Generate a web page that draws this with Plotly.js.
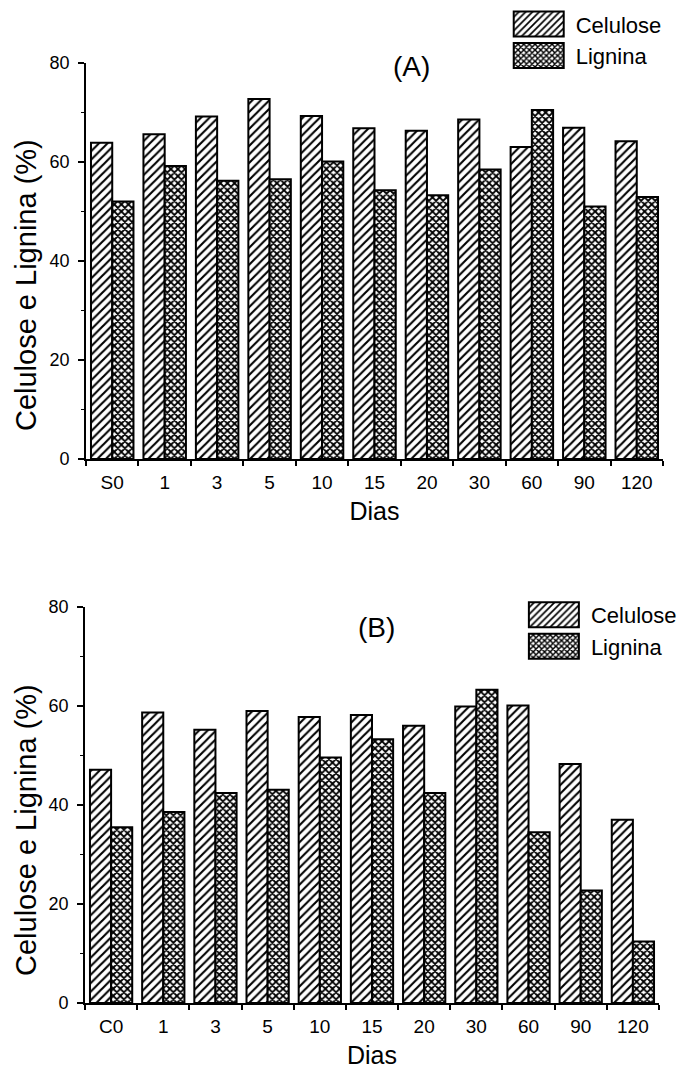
<!DOCTYPE html>
<html>
<head>
<meta charset="utf-8">
<script src="https://cdn.plot.ly/plotly-3.0.1.min.js"></script>
<style>html,body{margin:0;padding:0;background:#fff;}#chart{width:689px;height:1069px;}</style>
</head>
<body>
<div id="chart"></div>
<script>
// Categories (days)
const diasA = ['S0','1','3','5','10','15','20','30','60','90','120'];
const diasB = ['C0','1','3','5','10','15','20','30','60','90','120'];
// (A) values, %
const celuloseA = [63.9, 65.6, 69.2, 72.7, 69.3, 66.8, 66.3, 68.6, 63.0, 66.9, 64.2];
const ligninaA  = [52.0, 59.2, 56.2, 56.5, 60.1, 54.3, 53.3, 58.5, 70.5, 51.0, 52.9];
// (B) values, %
const celuloseB = [47.1, 58.7, 55.2, 59.0, 57.8, 58.2, 56.0, 59.9, 60.1, 48.3, 37.0];
const ligninaB  = [35.5, 38.6, 42.4, 43.1, 49.6, 53.3, 42.4, 63.3, 34.5, 22.7, 12.4];
const yTicks = [0, 20, 40, 60, 80];
const yTitle = 'Celulose e Lignina (%)';
const xTitle = 'Dias';

const FONT = 'Liberation Sans, Arial, Helvetica, sans-serif';
const celPattern = {shape: '/', fgcolor: '#000', bgcolor: '#fff', size: 6, solidity: 0.35};
const ligPattern = {shape: 'x', fgcolor: '#000', bgcolor: '#fff', size: 5, solidity: 0.6};
const line = {color: '#000', width: 2};

const traces = [
  {type: 'bar', name: 'Celulose', x: diasA, y: celuloseA, xaxis: 'x', yaxis: 'y', legend: 'legend',
   marker: {color: '#fff', line: line, pattern: celPattern}},
  {type: 'bar', name: 'Lignina', x: diasA, y: ligninaA, xaxis: 'x', yaxis: 'y', legend: 'legend',
   marker: {color: '#fff', line: line, pattern: ligPattern}},
  {type: 'bar', name: 'Celulose', x: diasB, y: celuloseB, xaxis: 'x2', yaxis: 'y2', legend: 'legend2',
   marker: {color: '#fff', line: line, pattern: celPattern}},
  {type: 'bar', name: 'Lignina', x: diasB, y: ligninaB, xaxis: 'x2', yaxis: 'y2', legend: 'legend2',
   marker: {color: '#fff', line: line, pattern: ligPattern}}
];

function xax(domain, anchor) {
  return {
    domain: domain, anchor: anchor, type: 'category',
    showline: true, linecolor: '#000', linewidth: 2,
    ticks: 'outside', tickson: 'boundaries', ticklen: 5, tickwidth: 2, tickcolor: '#000',
    ticklabelstandoff: 5,
    showgrid: false, zeroline: false, automargin: false,
    tickfont: {family: FONT, size: 19, color: '#000'},
    title: {text: xTitle, font: {family: FONT, size: 25, color: '#000'}, standoff: 11}
  };
}
function yax(domain, anchor) {
  return {
    domain: domain, anchor: anchor, range: [0, 80],
    tickvals: yTicks, showline: true, linecolor: '#000', linewidth: 2,
    ticks: 'outside', ticklen: 6, tickwidth: 2, tickcolor: '#000',
    ticklabelstandoff: 5,
    minor: {dtick: 10, ticks: 'outside', ticklen: 3, tickwidth: 1.5, tickcolor: '#000', showgrid: false},
    showgrid: false, zeroline: false, automargin: false,
    tickfont: {family: FONT, size: 18, color: '#000'}
  };
}

const legendFont = {family: FONT, size: 22, color: '#000'};
const layout = {
  width: 689, height: 1069,
  margin: {l: 80, r: 20, t: 10, b: 10, autoexpand: false},
  paper_bgcolor: '#fff', plot_bgcolor: '#fff',
  barmode: 'group', bargap: 0.19, bargroupgap: 0,
  xaxis: xax([0.0102, 0.9898], 'y'),
  yaxis: yax([0.5720, 0.9495], 'x'),
  xaxis2: xax([0.0085, 0.9830], 'y2'),
  yaxis2: yax([0.0534, 0.4309], 'x2'),
  legend: {x: 0.734, xref: 'container', y: 0.997, yref: 'container', xanchor: 'left', yanchor: 'top',
           itemwidth: 60, font: legendFont, bgcolor: 'rgba(0,0,0,0)', tracegroupgap: 0},
  legend2: {x: 0.756, xref: 'container', y: 0.4445, yref: 'container', xanchor: 'left', yanchor: 'top',
           itemwidth: 60, font: legendFont, bgcolor: 'rgba(0,0,0,0)', tracegroupgap: 0},
  annotations: [
    {text: '(A)', xref: 'paper', yref: 'paper', x: 0.562, y: 0.9457, xanchor: 'center', yanchor: 'middle',
     showarrow: false, font: {family: FONT, size: 28, color: '#000'}},
    {text: '(B)', xref: 'paper', yref: 'paper', x: 0.504, y: 0.4109, xanchor: 'center', yanchor: 'middle',
     showarrow: false, font: {family: FONT, size: 28, color: '#000'}},
    {text: yTitle, textangle: -90, xref: 'paper', yref: 'paper', x: -0.0917, y: 0.7378,
     xanchor: 'center', yanchor: 'middle', showarrow: false, font: {family: FONT, size: 29, color: '#000'}},
    {text: yTitle, textangle: -90, xref: 'paper', yref: 'paper', x: -0.0917, y: 0.2183,
     xanchor: 'center', yanchor: 'middle', showarrow: false, font: {family: FONT, size: 29, color: '#000'}}
  ],
  showlegend: true
};

Plotly.newPlot('chart', traces, layout, {displayModeBar: false, staticPlot: true}).then(function (gd) {
  // enlarge the legend swatches to the wide boxes used in the reference
  gd.querySelectorAll('.legendpoints path').forEach(function (p) {
    p.setAttribute('d', 'M23,12.5H-27V-12.5H23Z');
    p.style.strokeWidth = '2px';
    p.style.stroke = '#000';
  });
});
</script>
</body>
</html>
